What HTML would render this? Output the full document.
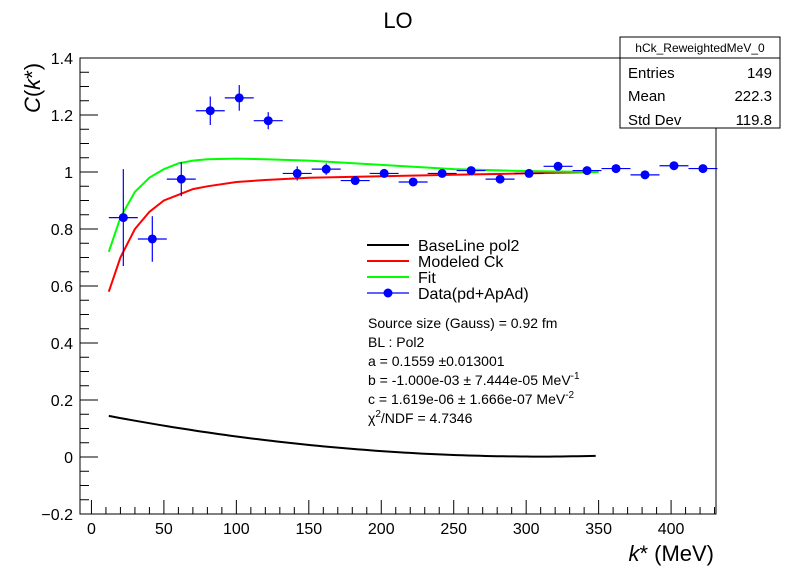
<!DOCTYPE html>
<html><head><meta charset="utf-8"><style>
html,body{margin:0;padding:0;background:#fff;}
svg{display:block;font-family:"Liberation Sans",sans-serif;}
</style></head><body>
<svg id="chart" width="796" height="572" viewBox="0 0 796 572">
<rect x="0" y="0" width="796" height="572" fill="#fff"/>
<text x="398" y="28" text-anchor="middle" font-size="22">LO</text>
<g id="axes"></g>
<g id="marks"></g>
<rect x="80" y="58" width="636" height="456" fill="none" stroke="#000" stroke-width="1"/>
<text transform="translate(40,88) rotate(-90)" text-anchor="middle" font-size="22"><tspan font-style="italic">C</tspan>(<tspan font-style="italic">k</tspan>*)</text>
<text x="714" y="561" text-anchor="end" font-size="22"><tspan font-style="italic">k</tspan>* (MeV)</text>
<g>
<line x1="367" y1="245" x2="409" y2="245" stroke="#000" stroke-width="2"/>
<text x="418" y="251" font-size="16">BaseLine pol2</text>
<line x1="367" y1="261" x2="409" y2="261" stroke="#f00" stroke-width="2"/>
<text x="418" y="267" font-size="16">Modeled Ck</text>
<line x1="367" y1="277" x2="409" y2="277" stroke="#0f0" stroke-width="2"/>
<text x="418" y="283" font-size="16">Fit</text>
<line x1="367" y1="293" x2="409" y2="293" stroke="#00f" stroke-width="1.2"/>
<circle cx="388" cy="293" r="4.5" fill="#00f"/>
<text x="418" y="299" font-size="16">Data(pd+ApAd)</text>
</g>
<g font-size="14">
<text x="368" y="328">Source size (Gauss) = 0.92 fm</text>
<text x="368" y="347">BL : Pol2</text>
<text x="368" y="366">a =  0.1559 ±0.013001</text>
<text x="368" y="385">b =  -1.000e-03 ± 7.444e-05 MeV<tspan dy="-6" font-size="10">-1</tspan></text>
<text x="368" y="404">c =  1.619e-06 ± 1.666e-07 MeV<tspan dy="-6" font-size="10">-2</tspan></text>
<text x="368" y="423">χ<tspan dy="-6" font-size="10">2</tspan><tspan dy="6">/NDF =  4.7346</tspan></text>
</g>
<g>
<rect x="620" y="37" width="160" height="91" fill="#fff" stroke="#000"/>
<line x1="620" y1="58" x2="780" y2="58" stroke="#000"/>
<text x="700" y="52" text-anchor="middle" font-size="12">hCk_ReweightedMeV_0</text>
<text x="628" y="78" font-size="15">Entries</text><text x="772" y="78" text-anchor="end" font-size="15">149</text>
<text x="628" y="101" font-size="15">Mean</text><text x="772" y="101" text-anchor="end" font-size="15">222.3</text>
<text x="628" y="125" font-size="15">Std Dev</text><text x="772" y="125" text-anchor="end" font-size="15">119.8</text>
</g>
</svg>
<script>
const dataX = [22,42,62,82,102,122,142,162,182,202,222,242,262,282,302,322,342,362,382,402,422];
const dataY = [0.84,0.765,0.975,1.215,1.26,1.18,0.995,1.01,0.97,0.995,0.965,0.995,1.005,0.975,0.995,1.02,1.005,1.012,0.99,1.022,1.012];
const dataErr = [0.17,0.08,0.06,0.05,0.045,0.03,0.025,0.02,0.015,0.013,0.013,0.012,0.012,0.01,0.01,0.01,0.01,0.01,0.01,0.01,0.01];
const binHalf = 10;
const curveX = [12,20,30,40,50,60,70,80,100,120,150,200,250,300,350];
const modeledY = [0.58,0.7,0.8,0.86,0.9,0.92,0.94,0.95,0.965,0.972,0.98,0.985,0.99,0.995,1.0];
const fitY = [0.72,0.84,0.93,0.98,1.01,1.03,1.04,1.045,1.047,1.045,1.04,1.025,1.01,1.003,1.0];
const baseA = 0.1559, baseB = -1.0e-3, baseC = 1.619e-6;
const xTicks = [0,50,100,150,200,250,300,350,400];
const yTicks = [-0.2,0,0.2,0.4,0.6,0.8,1,1.2,1.4];
const yTickLabels = ["−0.2","0","0.2","0.4","0.6","0.8","1","1.2","1.4"];

const X0=80,X1=716,Y0=514,Y1=58,XMIN=-7.9,XMAX=431,YMIN=-0.2,YMAX=1.4;
const sx=v=>X0+(v-XMIN)/(XMAX-XMIN)*(X1-X0);
const sy=v=>Y0-(v-YMIN)/(YMAX-YMIN)*(Y0-Y1);
const NS="http://www.w3.org/2000/svg";
const axes=document.getElementById('axes'), marks=document.getElementById('marks');
function mk(tag,attrs,parent){const e=document.createElementNS(NS,tag);for(const k in attrs)e.setAttribute(k,attrs[k]);parent.appendChild(e);return e;}
// x ticks
for(let v=0;v<=430;v+=10){
  const major=v%50===0;
  const t=mk('line',{x1:sx(v),x2:sx(v),y1:Y0,y2:Y0-(major?14:7),stroke:'#000'},axes);
  
  
}
xTicks.forEach(v=>{
  const t=mk('text',{x:sx(v),y:534,'text-anchor':'middle','font-size':16},axes);
  t.textContent=v;
  
  
});
for(let i=0;i<=32;i++){
  const v=YMIN+i*0.05; const major=i%4===0;
  const t=mk('line',{x1:X0,x2:X0+(major?18:9),y1:sy(v),y2:sy(v),stroke:'#000'},axes);
  
  
}
yTicks.forEach((v,i)=>{
  const t=mk('text',{x:73,y:sy(v)+6,'text-anchor':'end','font-size':16},axes);
  t.textContent=yTickLabels[i];
  
  
});
// curves
function path(xs,ys){return xs.map((x,i)=>(i?'L':'M')+sx(x).toFixed(1)+','+sy(ys[i]).toFixed(1)).join(' ');}
const bx=[],by=[];for(let x=12;x<=350;x+=4){bx.push(x);by.push(baseA+baseB*x+baseC*x*x);}
const pb=mk('path',{d:path(bx,by),fill:'none',stroke:'#000','stroke-width':2},marks);


const pm=mk('path',{d:path(curveX,modeledY),fill:'none',stroke:'#f00','stroke-width':2},marks);


const pf=mk('path',{d:path(curveX,fitY),fill:'none',stroke:'#0f0','stroke-width':2},marks);


// data points
dataX.forEach((x,i)=>{
  const g=mk('g',{},marks);
  
  
  const y=dataY[i], e=dataErr[i];
  mk('line',{x1:sx(x-binHalf),x2:sx(x+binHalf),y1:sy(y),y2:sy(y),stroke:'#00f','stroke-width':1.2},g);
  mk('line',{x1:sx(x),x2:sx(x),y1:sy(y-e),y2:sy(y+e),stroke:'#00f','stroke-width':1.2},g);
  mk('circle',{cx:sx(x),cy:sy(y),r:4.5,fill:'#00f'},g);
});
</script>
</body></html>
